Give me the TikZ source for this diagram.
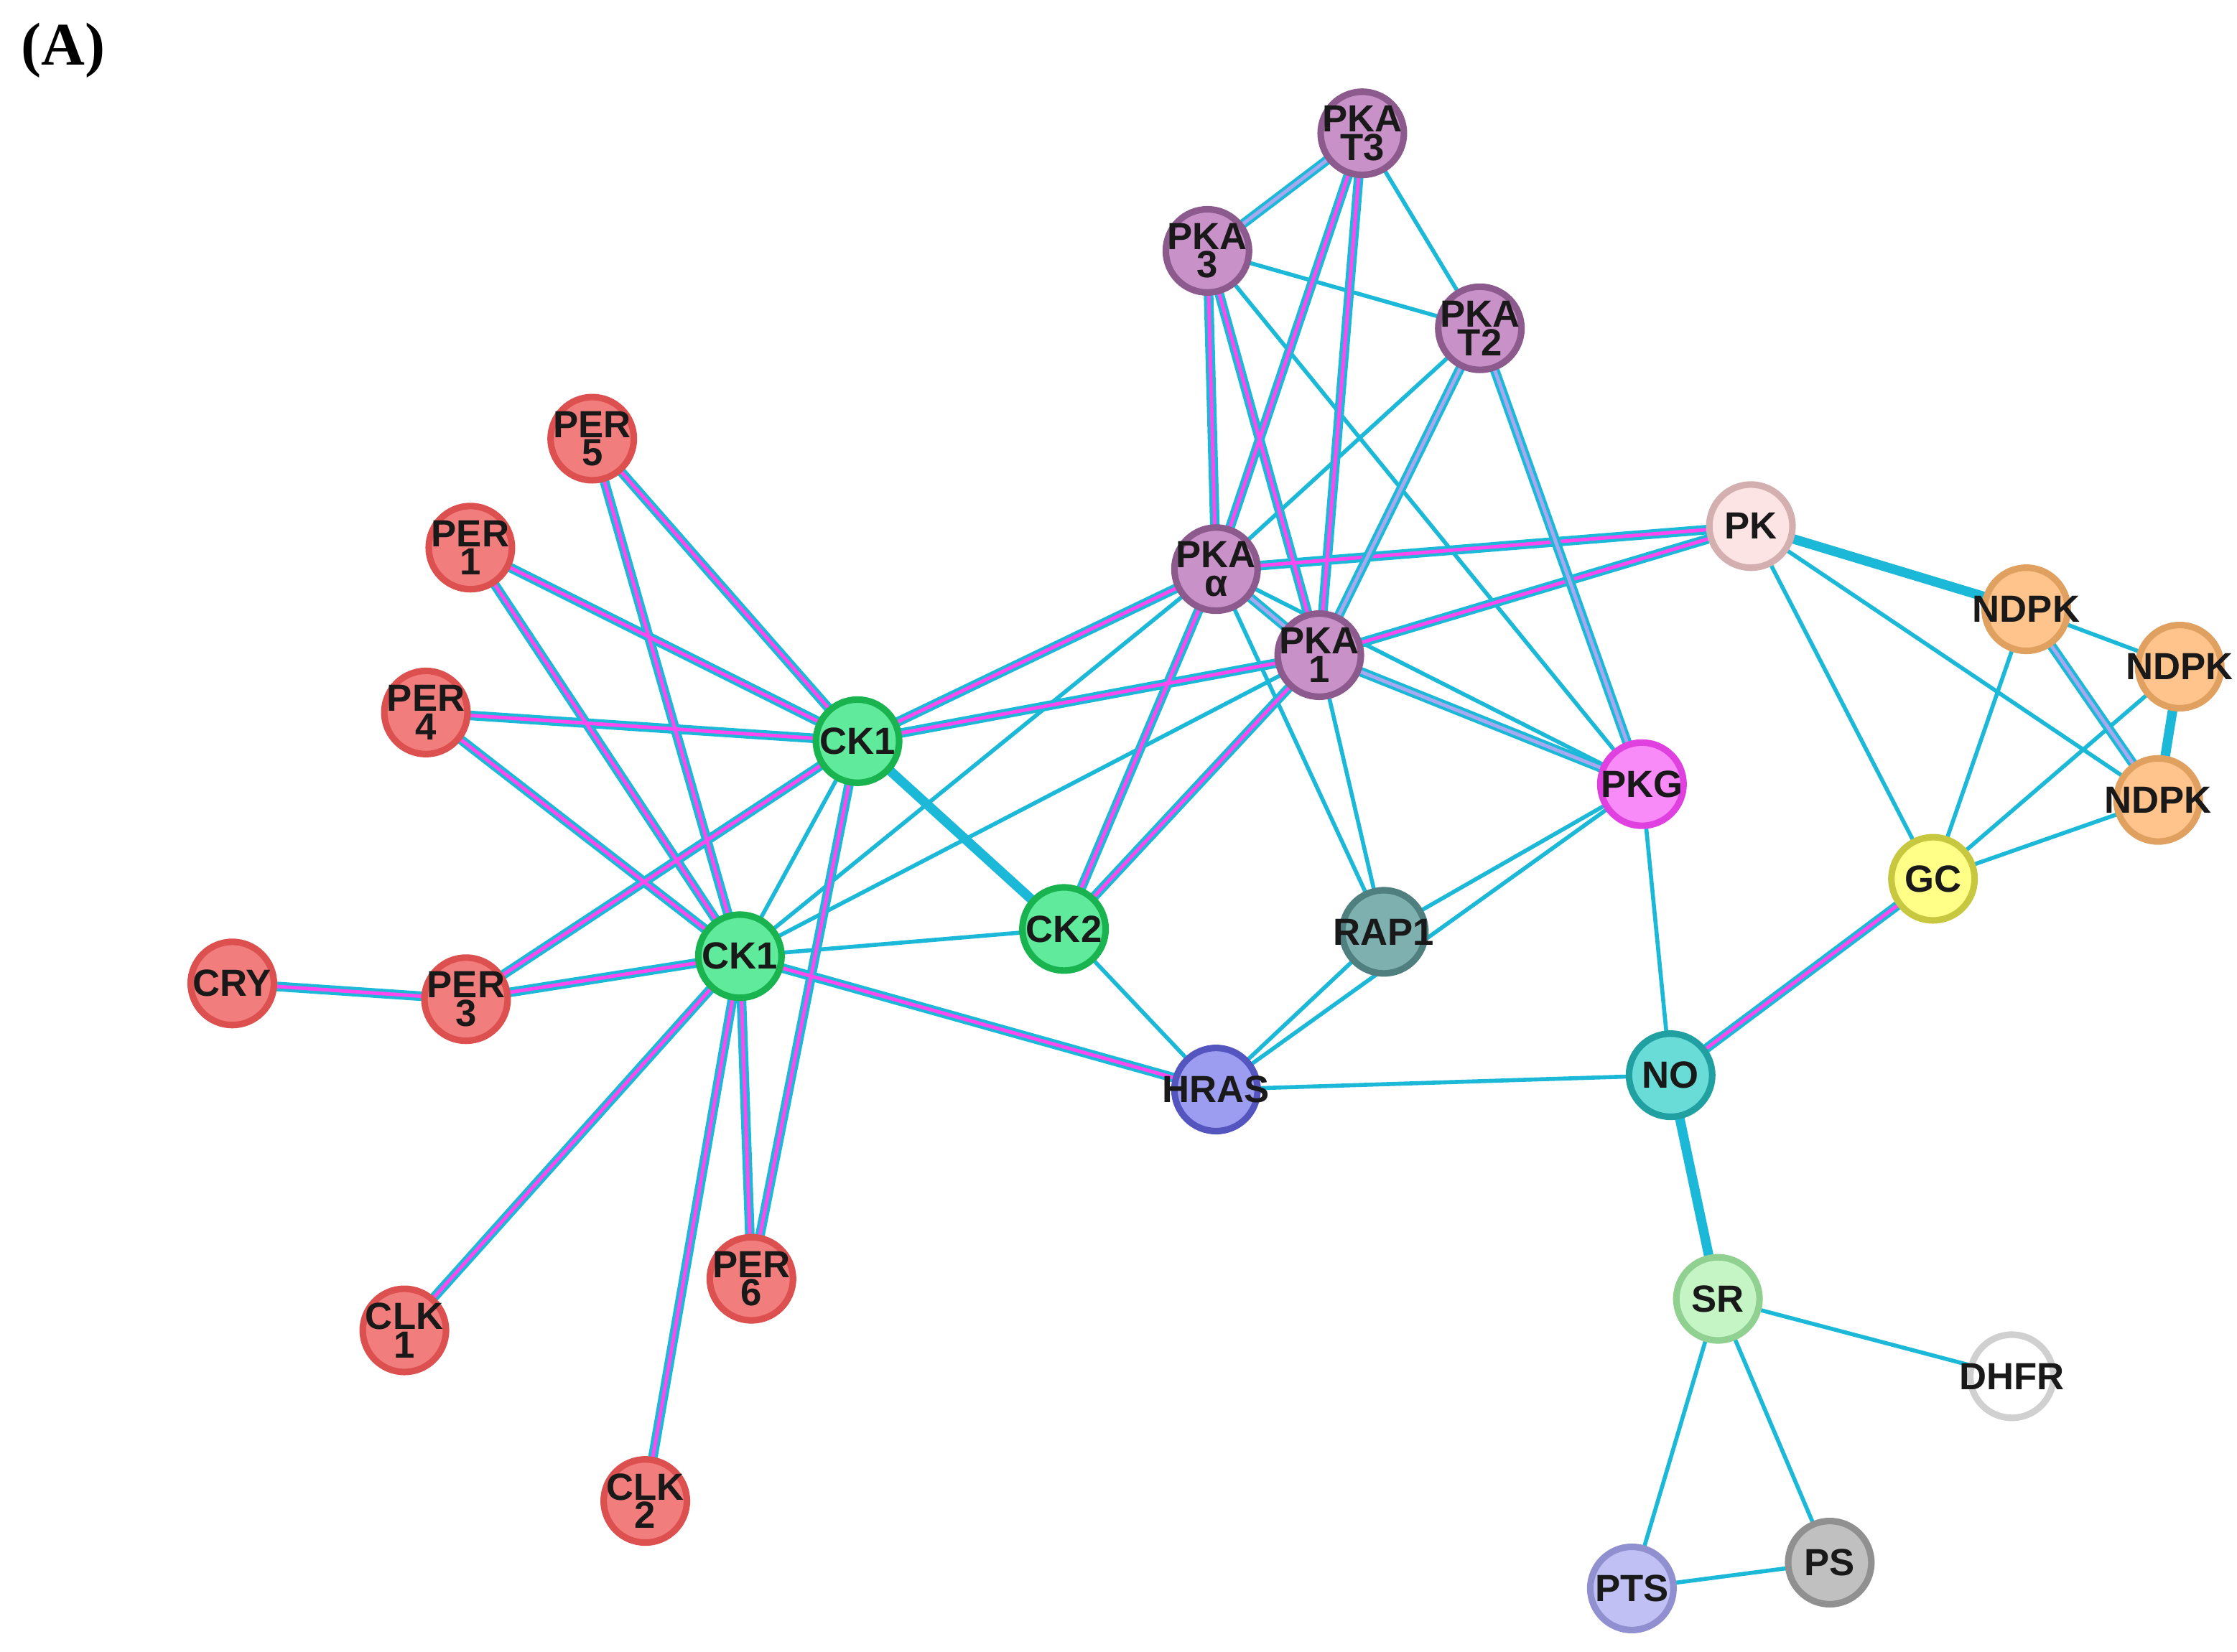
\documentclass[tikz,border=0pt]{standalone}
\usepackage{fontspec}
\setmainfont{Liberation Sans}
\newfontfamily\serifA{Liberation Serif}
\definecolor{cy}{HTML}{1CB8D8}
\definecolor{mg}{HTML}{FF48F0}
\definecolor{lv}{HTML}{A8A8F0}
\definecolor{fR}{HTML}{F27D7D}\definecolor{dR}{HTML}{DC5050}
\definecolor{fG}{HTML}{5FEB9B}\definecolor{dG}{HTML}{19B450}
\definecolor{fP}{HTML}{C891C8}\definecolor{dP}{HTML}{8C5A8C}
\definecolor{fK}{HTML}{FDE4E4}\definecolor{dK}{HTML}{D4AFAF}
\definecolor{fN}{HTML}{FFC48C}\definecolor{dN}{HTML}{E0A060}
\definecolor{fPG}{HTML}{F98BF9}\definecolor{dPG}{HTML}{E040E0}
\definecolor{fGC}{HTML}{FFFF88}\definecolor{dGC}{HTML}{C8C840}
\definecolor{fRA}{HTML}{7FB0B0}\definecolor{dRA}{HTML}{4F7F7F}
\definecolor{fH}{HTML}{9C9CF0}\definecolor{dH}{HTML}{5555C0}
\definecolor{fNO}{HTML}{6ADCD8}\definecolor{dNO}{HTML}{20A0A0}
\definecolor{fS}{HTML}{C5F5C5}\definecolor{dS}{HTML}{90D090}
\definecolor{dD}{HTML}{D0D0D0}
\definecolor{fT}{HTML}{C0C0F5}\definecolor{dT}{HTML}{9090D0}
\definecolor{fPS}{HTML}{C0C0C0}\definecolor{dPS}{HTML}{909090}
\tikzset{
 gnode/.style={circle,minimum size=16.5pt,inner sep=0pt,line width=1.3pt},
 gcol/.style 2 args={gnode,fill=#1,draw=#2},
 gtxt/.style={inner sep=0pt,font=\bfseries\fontsize{7.5}{5.6}\selectfont,align=center,text=black!90},
 gedge/.style={draw=cy,line width=0.8pt},
 gdbl/.style={draw=cy,line width=0.6pt,double=#1,double distance=0.7pt},
}
\begin{document}
\begin{tikzpicture}[x=0.01cm,y=-0.01cm]
\useasboundingbox (0,0) rectangle (1560,1152);
\node[font=\serifA\bfseries\fontsize{12}{12}\selectfont] (lab) at (44,35) {(A)};
\coordinate (PKAT3) at (950,93);
\coordinate (PKA3) at (842,175);
\coordinate (PKAT2) at (1032,229);
\coordinate (PER5) at (413,306);
\coordinate (PER1) at (328,382);
\coordinate (PKAa) at (848,397);
\coordinate (PK) at (1221,367);
\coordinate (PKA1) at (920,457);
\coordinate (ND1) at (1413,425);
\coordinate (ND2) at (1520,465);
\coordinate (ND3) at (1505,558);
\coordinate (PER4) at (297,497);
\coordinate (CKa) at (598,517);
\coordinate (PKG) at (1145,547);
\coordinate (GC) at (1348,613);
\coordinate (CK2) at (742,648);
\coordinate (RAP) at (965,650);
\coordinate (CRY) at (162,686);
\coordinate (PER3) at (325,697);
\coordinate (CKb) at (516,667);
\coordinate (HRAS) at (848,760);
\coordinate (NO) at (1165,750);
\coordinate (PER6) at (524,892);
\coordinate (SR) at (1198,906);
\coordinate (DHFR) at (1403,960);
\coordinate (CLK1) at (282,928);
\coordinate (CLK2) at (450,1047);
\coordinate (PTS) at (1138,1108);
\coordinate (PS) at (1276,1090);
\draw[gedge] (CKa)--(CKb) (CKb)--(PKAa) (CKb)--(PKA1) (CKb)--(CK2) (CK2)--(HRAS) (PKAa)--(PKAT2) (PKA3)--(PKAT2) (PKAT3)--(PKAT2) (PKA3)--(PKG) (PKAa)--(RAP) (PKA1)--(RAP) (RAP)--(PKG) (HRAS)--(PKG) (HRAS)--(RAP) (HRAS)--(NO) (PKG)--(NO) (SR)--(DHFR) (SR)--(PTS) (SR)--(PS) (PTS)--(PS) (PK)--(GC) (PK)--(ND3) (ND1)--(GC) (ND2)--(GC) (ND3)--(GC) (ND1)--(ND2) (PKAa)--(PKG);
\draw[gdbl=cy] (CKa)--(CK2) (NO)--(SR) (PK)--(ND1) (ND2)--(ND3);
\draw[gdbl=mg] (PER5)--(CKa) (PER5)--(CKb) (PER1)--(CKa) (PER1)--(CKb) (PER4)--(CKa) (PER4)--(CKb) (CKa)--(PER3) (CKb)--(PER3) (CRY)--(PER3) (CKa)--(PKAa) (CKa)--(PKA1) (CKa)--(PER6) (CKb)--(PER6) (CKb)--(CLK1) (CKb)--(CLK2) (CKb)--(HRAS) (CK2)--(PKAa) (CK2)--(PKA1) (PKAa)--(PKA3) (PKAa)--(PKAT3) (PKA1)--(PKA3) (PKA1)--(PKAT3) (PKAa)--(PK) (PKA1)--(PK) (NO)--(GC);
\draw[gdbl=lv] (PKAT3)--(PKA3) (PKA1)--(PKAT2) (PKAT2)--(PKG) (PKA1)--(PKG) (PKAa)--(PKA1) (ND1)--(ND3);
\node[gcol={fP}{dP}] (nPKAT3) at (PKAT3) {};
\node[gcol={fP}{dP}] (nPKA3) at (PKA3) {};
\node[gcol={fP}{dP}] (nPKAT2) at (PKAT2) {};
\node[gcol={fP}{dP}] (nPKAa) at (PKAa) {};
\node[gcol={fP}{dP}] (nPKA1) at (PKA1) {};
\node[gcol={fR}{dR}] (nPER5) at (PER5) {};
\node[gcol={fR}{dR}] (nPER1) at (PER1) {};
\node[gcol={fR}{dR}] (nPER4) at (PER4) {};
\node[gcol={fR}{dR}] (nPER3) at (PER3) {};
\node[gcol={fR}{dR}] (nPER6) at (PER6) {};
\node[gcol={fR}{dR}] (nCLK1) at (CLK1) {};
\node[gcol={fR}{dR}] (nCLK2) at (CLK2) {};
\node[gcol={fR}{dR}] (nCRY) at (CRY) {};
\node[gcol={fG}{dG}] (nCKa) at (CKa) {};
\node[gcol={fG}{dG}] (nCKb) at (CKb) {};
\node[gcol={fG}{dG}] (nCK2) at (CK2) {};
\node[gcol={fN}{dN}] (nND1) at (ND1) {};
\node[gcol={fN}{dN}] (nND2) at (ND2) {};
\node[gcol={fN}{dN}] (nND3) at (ND3) {};
\node[gcol={fK}{dK}] (nPK) at (PK) {};
\node[gcol={fPG}{dPG}] (nPKG) at (PKG) {};
\node[gcol={fGC}{dGC}] (nGC) at (GC) {};
\node[gcol={fRA}{dRA}] (nRAP) at (RAP) {};
\node[gcol={fH}{dH}] (nHRAS) at (HRAS) {};
\node[gcol={fNO}{dNO}] (nNO) at (NO) {};
\node[gcol={fS}{dS}] (nSR) at (SR) {};
\node[gcol={white}{dD}] (nDHFR) at (DHFR) {};
\node[gcol={fT}{dT}] (nPTS) at (PTS) {};
\node[gcol={fPS}{dPS}] (nPS) at (PS) {};
\node[gtxt] (tPKAT3) at (PKAT3) {PKA\\T3};
\node[gtxt] (tPKA3) at (PKA3) {PKA\\3};
\node[gtxt] (tPKAT2) at (PKAT2) {PKA\\T2};
\node[gtxt] (tPKAa) at (PKAa) {PKA\\α};
\node[gtxt] (tPKA1) at (PKA1) {PKA\\1};
\node[gtxt] (tPER5) at (PER5) {PER\\5};
\node[gtxt] (tPER1) at (PER1) {PER\\1};
\node[gtxt] (tPER4) at (PER4) {PER\\4};
\node[gtxt] (tPER3) at (PER3) {PER\\3};
\node[gtxt] (tPER6) at (PER6) {PER\\6};
\node[gtxt] (tCLK1) at (CLK1) {CLK\\1};
\node[gtxt] (tCLK2) at (CLK2) {CLK\\2};
\node[gtxt] (tCRY) at (CRY) {CRY};
\node[gtxt] (tCKa) at (CKa) {CK1};
\node[gtxt] (tCKb) at (CKb) {CK1};
\node[gtxt] (tCK2) at (CK2) {CK2};
\node[gtxt] (tND1) at (ND1) {NDPK};
\node[gtxt] (tND2) at (ND2) {NDPK};
\node[gtxt] (tND3) at (ND3) {NDPK};
\node[gtxt] (tPK) at (PK) {PK};
\node[gtxt] (tPKG) at (PKG) {PKG};
\node[gtxt] (tGC) at (GC) {GC};
\node[gtxt] (tRAP) at (RAP) {RAP1};
\node[gtxt] (tHRAS) at (HRAS) {HRAS};
\node[gtxt] (tNO) at (NO) {NO};
\node[gtxt] (tSR) at (SR) {SR};
\node[gtxt] (tDHFR) at (DHFR) {DHFR};
\node[gtxt] (tPTS) at (PTS) {PTS};
\node[gtxt] (tPS) at (PS) {PS};
\end{tikzpicture}
\end{document}
